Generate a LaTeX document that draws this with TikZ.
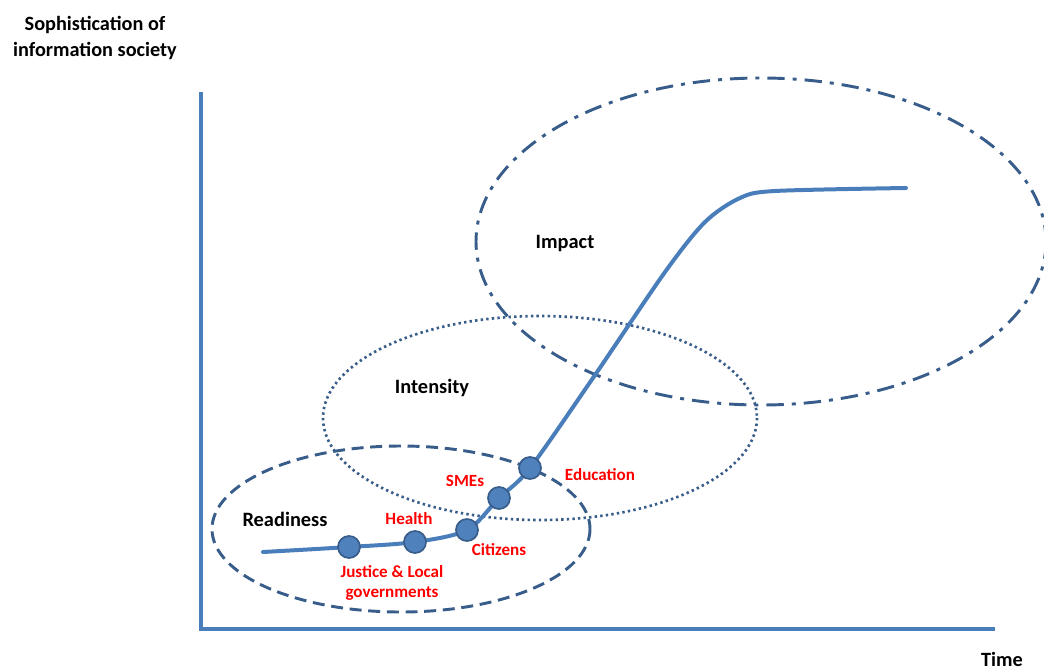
\documentclass[tikz,border=0pt]{standalone}
\usepackage{fontspec}
\setmainfont{Carlito}
\usetikzlibrary{shapes.geometric}
\definecolor{axisblue}{HTML}{4A7EBB}
\definecolor{darkblue}{HTML}{385D8A}
\definecolor{dotblue}{HTML}{4F81BD}
\definecolor{labred}{HTML}{FF0000}
\begin{document}
\begin{tikzpicture}[x=0.75pt,y=-0.75pt,
  axisline/.style={draw=axisblue,line width=2.3pt},
  curveline/.style={draw=axisblue,line width=3pt,line cap=round},
  zone/.style={draw=darkblue,line width=2.2pt},
  milestone/.style={circle,fill=dotblue,draw=darkblue,line width=1.3pt,minimum size=16.5pt,inner sep=0pt},
  redlab/.style={text=labred,font=\bfseries\fontsize{12.8}{15}\selectfont,align=center},
  zonelab/.style={font=\bfseries\fontsize{15.3}{18}\selectfont},
  axislab/.style={font=\bfseries\fontsize{15.2}{19}\selectfont,align=center}]
\useasboundingbox (0,0) rectangle (1044,671);
% axes
\coordinate (top) at (201,92);
\coordinate (origin) at (201,629);
\coordinate (xend) at (995,629);
\draw[axisline] (top) -- (origin) -- (xend);
% ellipses
\draw[zone,dash pattern=on 13pt off 6pt on 3pt off 6pt] (761,241.5) ellipse [x radius=285, y radius=163.5];
\draw[zone,line width=2pt,dash pattern=on 1.8pt off 2.4pt] (540,418) ellipse [x radius=217, y radius=102];
\draw[zone,dash pattern=on 9pt off 5pt] (401,529) ellipse [x radius=189, y radius=83];
% curve
\draw[curveline] plot[smooth,tension=0.5] coordinates {(263,552) (349,547) (415,542) (467,530) (499,498) (530,468) (595,375) (665,272) (705,222) (740,198) (775,191) (906,188)};
% milestones
\node[milestone] (m1) at (349,547) {};
\node[milestone] (m2) at (415,542) {};
\node[milestone] (m3) at (467,530) {};
\node[milestone] (m4) at (499,498) {};
\node[milestone] (m5) at (530,468) {};
% labels
\node[redlab] (l1) at (392,583) {Justice \& Local\\governments};
\node[redlab] (l2) at (409,519) {Health};
\node[redlab] (l3) at (499,550) {Citizens};
\node[redlab] (l4) at (465,481) {SMEs};
\node[redlab] (l5) at (600,475) {Education};
\node[zonelab] (z1) at (285,519) {Readiness};
\node[zonelab] (z2) at (432,388) {Intensity};
\node[zonelab] (z3) at (565,243) {Impact};
\node[axislab] (ya) at (95,38) {Sophistication of\\information society};
\node[axislab] (xa) at (1002,659) {Time};
\end{tikzpicture}
\end{document}
